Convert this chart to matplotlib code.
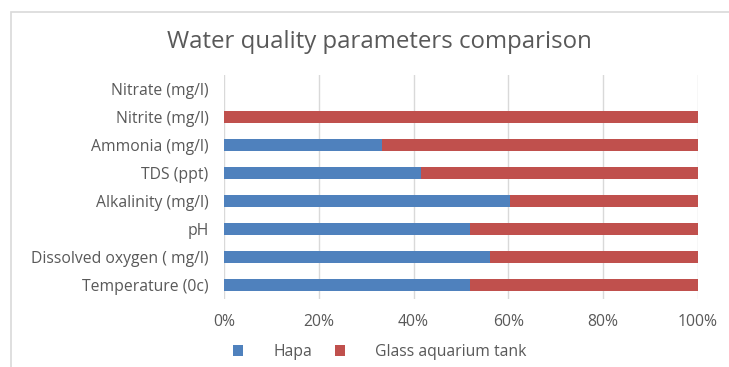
import matplotlib
matplotlib.use("Agg")
import matplotlib.pyplot as plt
from matplotlib.patches import Rectangle

categories = ["Temperature (0c)", "Dissolved oxygen ( mg/l)", "pH", "Alkalinity (mg/l)",
              "TDS (ppt)", "Ammonia (mg/l)", "Nitrite (mg/l)", "Nitrate (mg/l)"]
hapa = [52.0, 56.2, 52.0, 60.3, 41.5, 33.3, 0.0, 0.0]
glass = [48.0, 43.8, 48.0, 39.7, 58.5, 66.7, 100.0, 0.0]
xticks = [0, 20, 40, 60, 80, 100]
xticklabels = ["0%", "20%", "40%", "60%", "80%", "100%"]
title = "Water quality parameters comparison"
series_names = ["Hapa", "Glass aquarium tank"]

BLUE = "#4F81BD"
RED = "#C0504D"
TXT = "#595959"
plt.rcParams['font.family'] = ['Open Sans', 'DejaVu Sans']

W, H = 729, 367
fig = plt.figure(figsize=(W / 100, H / 100), dpi=100)
fig.patch.set_facecolor("white")
# outer chart frame
fig.patches.append(Rectangle((11 / W, -0.1), 1.2, (H - 12) / H + 0.1, transform=fig.transFigure,
                             fill=False, edgecolor="#D9D9D9", linewidth=1.2))

ax = fig.add_axes([224 / W, 1 - 299 / H, (698 - 224) / W, (299 - 75) / H])
y = list(range(len(categories)))
ax.barh(y, hapa, height=0.42, color=BLUE, label=series_names[0], zorder=3)
ax.barh(y, glass, left=hapa, height=0.42, color=RED, label=series_names[1], zorder=3)
ax.set_xlim(0, 100)
ax.set_ylim(-0.5, len(categories) - 0.5)
ax.set_yticks(y)
ax.set_yticklabels(categories, fontsize=11.3, color=TXT)
ax.set_xticks(xticks)
ax.set_xticklabels(xticklabels, fontsize=11.3, color=TXT)
ax.tick_params(axis='y', length=0, pad=11)
ax.tick_params(axis='x', length=0, pad=11)
ax.grid(axis='x', color="#D9D9D9", linewidth=1, zorder=0)
for s in ax.spines.values():
    s.set_visible(False)

fig.text(379 / W, 1 - 42 / H, title, ha='center', va='center', fontsize=17.3, color=TXT)

leg = fig.legend(loc='center', bbox_to_anchor=(380 / W, 1 - 352 / H), ncol=2, frameon=False,
                 fontsize=11.3, handlelength=0.63, handleheight=0.63, columnspacing=1.5,
                 handletextpad=1.9, borderpad=0, borderaxespad=0)
for t in leg.get_texts():
    t.set_color(TXT)

fig.savefig("out.png", dpi=100)
